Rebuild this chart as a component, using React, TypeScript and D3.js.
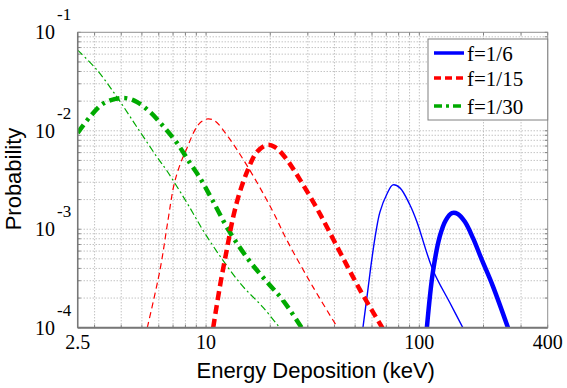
import React, { useEffect, useRef } from "react";
import * as d3 from "d3";

// axis ticks
const xTicks = [2.5, 10, 100, 400];
const xTickLabels = ["2.5", "10", "100", "400"];
const yTicks = [1e-1, 1e-2, 1e-3, 1e-4];
const yTickExp = ["-1", "-2", "-3", "-4"];
const legendLabels = ["f=1/6", "f=1/15", "f=1/30"];

// f=1/6 (blue)
const blueThickE = [108.5, 115.8, 124.9, 133.2, 142.2, 151.6, 163.6, 178.4, 196.5, 221, 265];
const blueThickP = [0.0001, 0.000368, 0.000855, 0.00124, 0.00146, 0.00143, 0.00119, 0.000816, 0.000488, 0.000266, 0.00009];
const blueThinE = [54.4, 57.4, 60.0, 62.6, 65.4, 70.5, 75.2, 81.1, 90.4, 97.4, 115.8, 139.1, 162];
const blueThinP = [0.0001, 0.000244, 0.000511, 0.000939, 0.0015, 0.00228, 0.00282, 0.00263, 0.00176, 0.00119, 0.000386, 0.000179, 0.000095];

// f=1/15 (red)
const redThickE = [10.8, 11.6, 12.5, 13.4, 14.4, 15.7, 17.3, 19.3, 21.0, 23.4, 27.6, 34.2, 42.4, 52.6, 68];
const redThickP = [0.0001, 0.00026, 0.000616, 0.00133, 0.00239, 0.004, 0.00609, 0.00718, 0.00685, 0.00542, 0.00317, 0.00143, 0.000588, 0.000244, 0.000095];
const redThinE = [5.3, 6.08, 6.63, 7.07, 7.54, 8.14, 8.87, 9.46, 10.2, 11.0, 12.7, 15.7, 20.4, 23.9, 31.7, 42];
const redThinP = [0.0001, 0.000386, 0.00124, 0.00282, 0.0045, 0.00669, 0.0102, 0.01228, 0.0132, 0.01257, 0.00865, 0.00429, 0.00157, 0.000779, 0.00026, 0.000095];

// f=1/30 (green)
const greenThickE = [2.5, 2.85, 3.32, 4.12, 4.74, 5.46, 6.35, 7.3, 8.4, 9.36, 10.7, 12.9, 16.1, 19.5, 22.9, 28.5];
const greenThickP = [0.0095, 0.0138, 0.0191, 0.0215, 0.0196, 0.0155, 0.0109, 0.00752, 0.00471, 0.00332, 0.00198, 0.000939, 0.000466, 0.000285, 0.000191, 0.000095];
const greenThinE = [2.5, 3.08, 3.82, 4.74, 5.88, 6.56, 8.14, 10.1, 14.4, 18.5, 23];
const greenThinP = [0.066, 0.0414, 0.022, 0.0109, 0.00542, 0.0039, 0.00185, 0.00084, 0.000285, 0.000161, 0.00009];

const BLUE = "#0000ff", RED = "#ff0000", GREEN = "#00aa00";

export default function App() {
  const ref = useRef<SVGSVGElement>(null);

  useEffect(() => {
    const width = 567, height = 388;
    const left = 77.7, right = 547.7, top = 32.3, bottom = 327.7;
    const svg = d3.select(ref.current);
    svg.selectAll("*").remove();

    const x = d3.scaleLog().domain([2.5, 400]).range([left, right]);
    const y = d3.scaleLog().domain([1e-4, 1e-1]).range([bottom, top]);

    svg.append("rect").attr("width", width).attr("height", height).attr("fill", "white");

    // grid
    const grid = svg.append("g");
    grid.selectAll("line.gx")
      .data(x.ticks().filter(d => d > 2.5 && d < 400))
      .enter().append("line")
      .attr("x1", d => x(d)).attr("x2", d => x(d))
      .attr("y1", top).attr("y2", bottom)
      .attr("stroke", "#a8a8a8").attr("stroke-width", 1)
      .attr("stroke-dasharray", "1,2");
    grid.selectAll("line.gy")
      .data(y.ticks().filter(d => d > 1e-4 && d < 1e-1))
      .enter().append("line")
      .attr("x1", left).attr("x2", right)
      .attr("y1", d => y(d)).attr("y2", d => y(d))
      .attr("stroke", "#a8a8a8").attr("stroke-width", 1)
      .attr("stroke-dasharray", "1,2");

    // minor tick marks
    const tk = svg.append("g").attr("stroke", "#808080");
    x.ticks().forEach(d => {
      tk.append("line").attr("x1", x(d)).attr("x2", x(d)).attr("y1", bottom).attr("y2", bottom - 3);
      tk.append("line").attr("x1", x(d)).attr("x2", x(d)).attr("y1", top).attr("y2", top + 3);
    });
    y.ticks().forEach(d => {
      tk.append("line").attr("x1", left).attr("x2", left + 3).attr("y1", y(d)).attr("y2", y(d));
      tk.append("line").attr("x1", right).attr("x2", right - 3).attr("y1", y(d)).attr("y2", y(d));
    });

    // curves
    svg.append("clipPath").attr("id", "plotclip")
      .append("rect").attr("x", left).attr("y", top)
      .attr("width", right - left).attr("height", bottom - top);

    const series = [
      { e: greenThinE, p: greenThinP, color: GREEN, w: 1.2, dash: "7,3,2,3" },
      { e: redThinE, p: redThinP, color: RED, w: 1.2, dash: "6,4" },
      { e: blueThinE, p: blueThinP, color: BLUE, w: 1.4, dash: null },
      { e: greenThickE, p: greenThickP, color: GREEN, w: 4.5, dash: "10,5,3,5" },
      { e: redThickE, p: redThickP, color: RED, w: 4.5, dash: "9,5" },
      { e: blueThickE, p: blueThickP, color: BLUE, w: 4.5, dash: null },
    ];

    const line = d3.line<[number, number]>()
      .x(d => x(d[0]))
      .y(d => y(d[1]))
      .curve(d3.curveCatmullRom.alpha(0.5));

    const curves = svg.append("g").attr("clip-path", "url(#plotclip)");
    series.forEach(s => {
      const pts = s.e.map((v, i) => [v, s.p[i]] as [number, number]);
      curves.append("path")
        .attr("d", line(pts))
        .attr("fill", "none")
        .attr("stroke", s.color)
        .attr("stroke-width", s.w)
        .attr("stroke-dasharray", s.dash)
        .attr("stroke-linejoin", "round");
    });

    // box
    svg.append("rect").attr("x", left).attr("y", top)
      .attr("width", right - left).attr("height", bottom - top)
      .attr("fill", "none").attr("stroke", "#909090").attr("stroke-width", 1);
    svg.append("line").attr("x1", left).attr("x2", left).attr("y1", top).attr("y2", bottom)
      .attr("stroke", "#777").attr("stroke-width", 1.5);
    svg.append("line").attr("x1", left).attr("x2", right).attr("y1", bottom).attr("y2", bottom)
      .attr("stroke", "#777").attr("stroke-width", 2);

    // x tick labels
    svg.append("g").selectAll("text")
      .data(xTicks).enter().append("text")
      .attr("x", d => x(d)).attr("y", 349)
      .attr("text-anchor", "middle")
      .attr("font-family", "Liberation Serif, serif")
      .attr("font-size", 20)
      .text((d, i) => xTickLabels[i]);

    // y tick labels: 10 with superscript exponent
    const yl = svg.append("g").attr("font-family", "Liberation Serif, serif");
    yTicks.forEach((d, i) => {
      yl.append("text").attr("x", 55).attr("y", y(d) + 7)
        .attr("text-anchor", "end").attr("font-size", 20).text("10");
      yl.append("text").attr("x", 57).attr("y", y(d) - 12)
        .attr("text-anchor", "start").attr("font-size", 17).text(yTickExp[i]);
    });

    // axis titles
    svg.append("text")
      .attr("x", (left + right) / 2 + 3).attr("y", 378)
      .attr("text-anchor", "middle")
      .attr("font-family", "Liberation Sans, Arial, sans-serif")
      .attr("font-size", 22)
      .text("Energy Deposition (keV)");
    svg.append("text")
      .attr("transform", "translate(21,179) rotate(-90)")
      .attr("text-anchor", "middle")
      .attr("font-family", "Liberation Sans, Arial, sans-serif")
      .attr("font-size", 22)
      .text("Probability");

    // legend
    const lg = svg.append("g");
    lg.append("rect").attr("x", 428).attr("y", 39).attr("width", 119.7).attr("height", 81)
      .attr("fill", "white").attr("stroke", "#808080").attr("stroke-width", 1);
    const legendStyles = [
      { color: BLUE, dash: null, ly: 53 },
      { color: RED, dash: "7,4", ly: 78 },
      { color: GREEN, dash: "8,4,3,4", ly: 106 },
    ];
    legendStyles.forEach((s, i) => {
      lg.append("line").attr("x1", 434).attr("x2", 464).attr("y1", s.ly).attr("y2", s.ly)
        .attr("stroke", s.color).attr("stroke-width", 3.5)
        .attr("stroke-dasharray", s.dash);
      lg.append("text").attr("x", 467).attr("y", s.ly + 8)
        .attr("font-family", "Liberation Serif, serif").attr("font-size", 21)
        .text(legendLabels[i]);
    });
  }, []);

  return (
    <svg ref={ref} width={567} height={388}
      style={{ position: "absolute", left: 0, top: 0, display: "block" }} />
  );
}
